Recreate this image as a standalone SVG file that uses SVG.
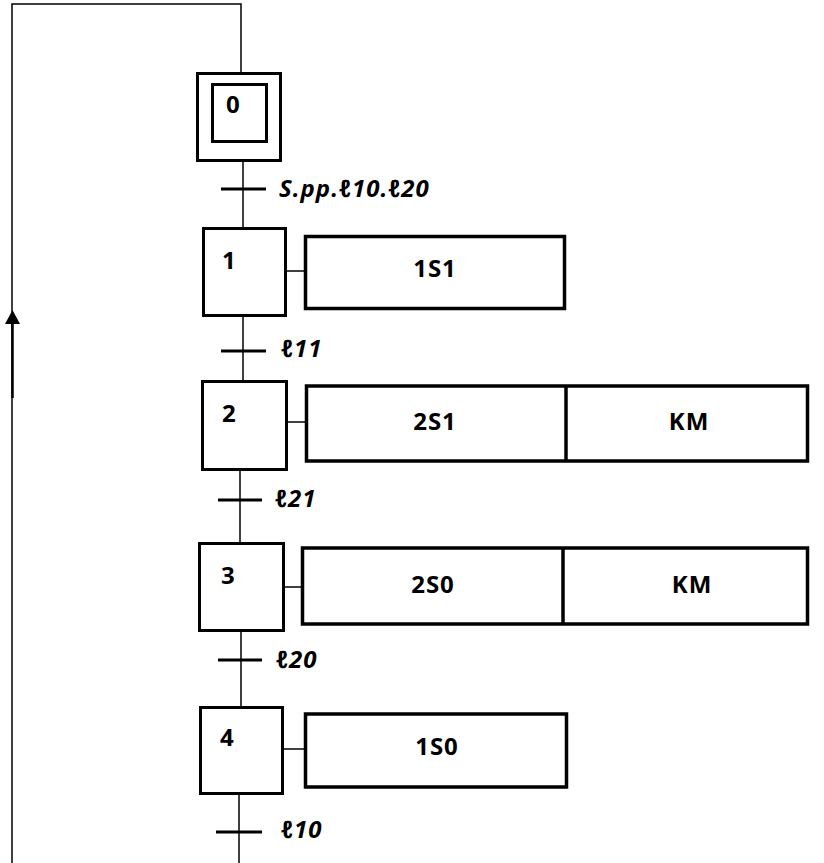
<svg xmlns="http://www.w3.org/2000/svg" width="824" height="863" viewBox="0 0 824 863">
<style>
.step{fill:#fff;stroke:#000;stroke-width:3}
.act{fill:#fff;stroke:#000;stroke-width:3.5}
.ln{fill:none;stroke:#000;stroke-width:1.5}
.bar{stroke:#000;stroke-width:3}
.num{font-family:"Open Sans","Liberation Sans",sans-serif;font-weight:bold;font-size:24px;fill:#000}
.at{font-family:"Open Sans","Liberation Sans",sans-serif;font-weight:bold;font-size:24px;fill:#000;text-anchor:middle;letter-spacing:1px}
.tr{font-family:"Open Sans","Liberation Sans",sans-serif;font-weight:bold;font-style:italic;font-size:24px;fill:#000;letter-spacing:1px}
</style>
<g id="connectors">
<polyline class="ln" points="12,863 12,4 241,4 241,72"/>
<line x1="12.5" y1="398" x2="12.5" y2="322" stroke="#000" stroke-width="2.5"/>
<polygon points="12.5,310 5,324 20,324" fill="#000"/>
<line class="ln" x1="243" y1="162" x2="243" y2="227"/>
<line class="bar" x1="221" y1="189" x2="266" y2="189"/>
<line class="ln" x1="243" y1="317" x2="243" y2="380"/>
<line class="bar" x1="221" y1="351" x2="266" y2="351"/>
<line class="ln" x1="240" y1="470" x2="240" y2="542"/>
<line class="bar" x1="218" y1="500" x2="262" y2="500"/>
<line class="ln" x1="241" y1="632" x2="241" y2="706"/>
<line class="bar" x1="218" y1="660" x2="262" y2="660"/>
<line class="ln" x1="239" y1="795" x2="239" y2="863"/>
<line class="bar" x1="216" y1="832" x2="262" y2="832"/>
<line class="ln" x1="287" y1="271" x2="304" y2="271"/>
<line class="ln" x1="288" y1="422" x2="305" y2="422"/>
<line class="ln" x1="285" y1="587" x2="302" y2="587"/>
<line class="ln" x1="284" y1="749" x2="304" y2="749"/>
</g>
<g id="t0"><text class="tr" x="279" y="197">S.pp.ℓ10.ℓ20</text></g>
<g id="t1"><text class="tr" x="281" y="357">ℓ11</text></g>
<g id="t2"><text class="tr" x="275" y="507">ℓ21</text></g>
<g id="t3"><text class="tr" x="276" y="668">ℓ20</text></g>
<g id="t4"><text class="tr" x="281" y="838">ℓ10</text></g>
<g id="step0">
<rect class="step" x="197.5" y="73.5" width="83" height="87"/>
<rect class="step" x="212.5" y="84.5" width="54" height="57"/>
<text class="num" x="226" y="113">0</text>
</g>
<g id="step1">
<rect class="step" x="203.5" y="228.5" width="82" height="87"/>
<text class="num" x="222" y="269">1</text>
</g>
<g id="act1">
<rect class="act" x="305.5" y="236.5" width="259" height="72"/>
<text class="at" x="435" y="277">1S1</text>
</g>
<g id="step2">
<rect class="step" x="202.5" y="381.5" width="84" height="88"/>
<text class="num" x="222" y="422">2</text>
</g>
<g id="act2">
<rect class="act" x="306.5" y="386" width="501" height="75"/>
<line class="act" x1="566" y1="386" x2="566" y2="461"/>
<text class="at" x="435" y="430">2S1</text>
<text class="at" x="689" y="430">KM</text>
</g>
<g id="step3">
<rect class="step" x="199.5" y="543.5" width="84" height="87"/>
<text class="num" x="221" y="584">3</text>
</g>
<g id="act3">
<rect class="act" x="302.5" y="548" width="505" height="76"/>
<line class="act" x1="563" y1="548" x2="563" y2="624"/>
<text class="at" x="433" y="593">2S0</text>
<text class="at" x="692" y="593">KM</text>
</g>
<g id="step4">
<rect class="step" x="200.5" y="707.5" width="82" height="86"/>
<text class="num" x="220" y="746">4</text>
</g>
<g id="act4">
<rect class="act" x="305.5" y="714" width="261" height="73"/>
<text class="at" x="437" y="755">1S0</text>
</g>
</svg>
